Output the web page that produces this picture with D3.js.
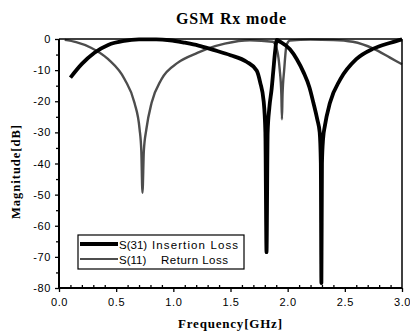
<!DOCTYPE html>
<html>
<head>
<meta charset="utf-8">
<script src="https://cdn.jsdelivr.net/npm/d3@7"></script>
<style>
  body { margin: 0; background: #fff; }
  svg { display: block; }
</style>
</head>
<body>
<div id="chart"></div>
<script>
// Frequency ticks and magnitude ticks
const xTicks = [0, 0.5, 1.0, 1.5, 2.0, 2.5, 3.0];
const yTicks = [0, -10, -20, -30, -40, -50, -60, -70, -80];

// S(31) Insertion Loss
const s31Freq = [0.10, 0.20, 0.31, 0.43, 0.57, 0.70, 0.85, 0.97, 1.10, 1.22, 1.35, 1.50, 1.64, 1.73, 1.76, 1.79,
  1.805, 1.815, 1.825, 1.84, 1.86, 1.875, 1.89, 1.905, 1.93, 2.02, 2.08, 2.14, 2.19, 2.225, 2.26, 2.28, 2.29,
  2.295, 2.30, 2.31, 2.325, 2.37, 2.46, 2.60, 2.75, 2.90, 3.00];
const s31Mag = [-12.4, -8.0, -4.4, -1.9, -0.6, -0.15, -0.1, -0.4, -1.2, -2.1, -3.5, -5.2, -7.3, -10.2, -14.0, -20.0,
  -30.0, -68.5, -30.0, -22.0, -16.0, -10.0, -4.0, -0.3, -0.8, -3.3, -6.5, -10.8, -15.5, -20.5, -26.0, -30.0, -40.0,
  -78.4, -40.0, -32.0, -28.0, -20.5, -13.0, -6.5, -3.1, -1.2, -0.1];

// S(11) Return Loss
const s11Freq = [0.05, 0.15, 0.28, 0.43, 0.575, 0.66, 0.705, 0.72, 0.73, 0.742, 0.764, 0.81, 0.895, 1.04, 1.215,
  1.30, 1.45, 1.67, 1.87, 1.91, 1.93, 1.945, 1.95, 1.955, 1.97, 1.99, 2.02, 2.20, 2.40, 2.57, 2.75, 2.895, 3.00];
const s11Mag = [-0.3, -1.0, -2.8, -6.5, -13.0, -20.5, -29.0, -36.0, -49.4, -36.0, -29.0, -20.5, -13.0, -7.6, -4.4,
  -3.1, -1.5, -0.4, -0.9, -4.0, -9.7, -18.0, -25.8, -18.0, -9.7, -2.0, -0.5, -0.2, -0.3, -0.9, -3.1, -6.0, -8.1];

const width = 410, height = 334;
const margin = { top: 39, right: 8, bottom: 46, left: 59 };
const serif = "'Liberation Serif', 'Times New Roman', serif";
const sans = "'Liberation Sans', Arial, sans-serif";

const svg = d3.select("#chart").append("svg")
  .attr("width", width)
  .attr("height", height);

const x = d3.scaleLinear().domain([0, 3]).range([margin.left, width - margin.right]);
const y = d3.scaleLinear().domain([-80, 0]).range([height - margin.bottom, margin.top]);

// title
svg.append("text")
  .attr("x", 231).attr("y", 24)
  .attr("text-anchor", "middle")
  .attr("textLength", 110)
  .style("font-family", serif)
  .style("font-weight", "bold")
  .style("font-size", "16px")
  .text("GSM Rx mode");

// curves
const line = d3.line()
  .x(d => x(d[0]))
  .y(d => y(d[1]))
  .curve(d3.curveMonotoneX);

const plot = svg.append("g");

plot.append("path")
  .datum(d3.zip(s11Freq, s11Mag))
  .attr("fill", "none")
  .attr("stroke", "#4d4d4d")
  .attr("stroke-width", 2.4)
  .attr("d", line);

plot.append("path")
  .datum(d3.zip(s31Freq, s31Mag))
  .attr("fill", "none")
  .attr("stroke", "#000")
  .attr("stroke-width", 3.8)
  .attr("stroke-linejoin", "round")
  .attr("d", line);

// frame
const frame = svg.append("g").attr("stroke", "#000").attr("fill", "none");
frame.append("line").attr("x1", x(0)).attr("x2", x(3)).attr("y1", y(0)).attr("y2", y(0)).attr("stroke-width", 1.5);
frame.append("line").attr("x1", x(3)).attr("x2", x(3)).attr("y1", y(0)).attr("y2", y(-80)).attr("stroke-width", 1.5);
frame.append("line").attr("x1", x(0)).attr("x2", x(0)).attr("y1", y(0)).attr("y2", y(-80)).attr("stroke-width", 2);
frame.append("line").attr("x1", x(0)).attr("x2", x(3)).attr("y1", y(-80)).attr("y2", y(-80)).attr("stroke-width", 2);

// x axis
svg.append("g")
  .attr("transform", `translate(0,${y(-80)})`)
  .call(d3.axisBottom(x).tickValues(xTicks).tickFormat(d3.format(".1f")).tickSize(4).tickPadding(6));
svg.append("g")
  .attr("transform", `translate(0,${y(-80)})`)
  .call(d3.axisBottom(x).tickValues(d3.range(1, 30).filter(i => i % 5 !== 0).map(i => i / 10))
    .tickSize(-3).tickFormat(""));

// y axis
svg.append("g")
  .attr("transform", `translate(${x(0)},0)`)
  .call(d3.axisLeft(y).tickValues(yTicks).tickFormat(d => d === 0 ? "0" : "-" + Math.abs(d)).tickSize(4).tickPadding(4));
svg.append("g")
  .attr("transform", `translate(${x(0)},0)`)
  .call(d3.axisLeft(y).tickValues(d3.range(-75, 0, 10)).tickSize(3).tickFormat(""));

svg.selectAll(".domain").remove();
svg.selectAll(".tick line").attr("stroke", "#000").attr("stroke-width", 1.3);
svg.selectAll(".tick text")
  .attr("fill", "#000")
  .style("font-family", sans)
  .style("font-size", "11px")
  .style("letter-spacing", "0.6px");

// axis labels
svg.append("text")
  .attr("x", 230).attr("y", 328)
  .attr("text-anchor", "middle")
  .attr("textLength", 104)
  .style("font-family", serif)
  .style("font-weight", "bold")
  .style("font-size", "13px")
  .text("Frequency[GHz]");

svg.append("text")
  .attr("transform", "translate(20,172) rotate(-90)")
  .attr("text-anchor", "middle")
  .attr("textLength", 94)
  .style("font-family", serif)
  .style("font-weight", "bold")
  .style("font-size", "12.5px")
  .text("Magnitude[dB]");

// legend
const legendItems = [
  { code: "S(31)", name: "Insertion Loss", nameX: 152, nameLen: 86, color: "#000", w: 3.8 },
  { code: "S(11)", name: "Return Loss", nameX: 161, nameLen: 67, color: "#4d4d4d", w: 2.2 }
];
const legend = svg.append("g");
legend.append("rect")
  .attr("x", 78).attr("y", 235)
  .attr("width", 166).attr("height", 34)
  .attr("fill", "#fff")
  .attr("stroke", "#000")
  .attr("stroke-width", 1.2);
legendItems.forEach((item, i) => {
  const cy = 244 + i * 15;
  legend.append("line")
    .attr("x1", 80).attr("x2", 118)
    .attr("y1", cy).attr("y2", cy)
    .attr("stroke", item.color)
    .attr("stroke-width", item.w);
  legend.append("text")
    .attr("x", 119).attr("y", cy + 4.5)
    .style("font-family", sans)
    .style("font-size", "11.5px")
    .text(item.code);
  legend.append("text")
    .attr("x", item.nameX).attr("y", cy + 4.5)
    .attr("textLength", item.nameLen)
    .style("font-family", sans)
    .style("font-size", "11.5px")
    .text(item.name);
});
</script>
</body>
</html>
